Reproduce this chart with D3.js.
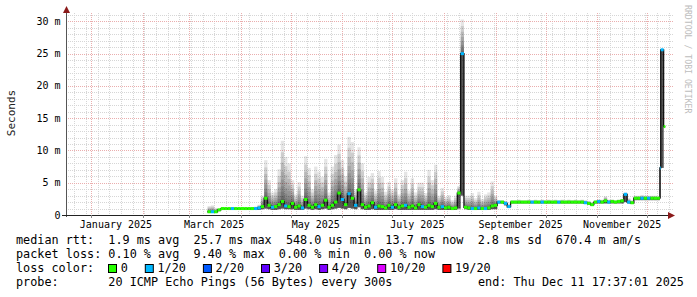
<!DOCTYPE html>
<html>
<head>
<meta charset="utf-8">
<script src="https://cdn.jsdelivr.net/npm/d3@7/dist/d3.min.js"></script>
<style>
body { margin: 0; background: #fff; }
svg { display: block; font-family: "DejaVu Sans Mono", monospace; }
</style>
</head>
<body>
<svg id="chart" width="697" height="297"></svg>
<script>
// one sample every 2 days starting here
var firstDay = '2025-03-12'

// median rtt in ms
var median = [
    0.5, 0.5, 0.5, 0.8, 1.0, 1.0, 1.0, 1.0, 1.0, 1.0,
    1.0, 1.0, 1.0, 1.0, 1.0, 1.1, 1.3, 2.6, 1.5, 1.2, 1.3, 1.6, 2.1, 1.4, 1.3,
    1.8, 1.2, 1.4, 1.1, 2.4, 1.5, 1.2, 1.6, 1.3, 1.5, 2.3, 1.2, 1.5, 2.0, 3.4, 2.4,
    1.6, 3.3, 2.6, 1.5, 3.9, 1.6, 1.2, 1.4, 1.9, 1.2, 1.4, 1.3, 1.1, 1.5, 1.2,
    1.6, 1.2, 1.4, 1.5, 1.2, 1.4, 1.1, 1.6, 1.3, 1.2, 1.5, 1.3, 1.8, 1.2, 1.3,
    1.1, 1.2, 1.0, 1.1, 3.4, 25.0, 1.2, 1.1, 1.0, 1.0, 1.1, 1.0, 1.0, 1.1, 1.4, 1.5,
    2.0, 2.0, 1.8, 1.3, 2.0, 2.0, 2.0, 2.0, 2.0, 2.0, 2.0, 2.0, 2.0, 2.0, 2.0,
    2.0, 2.0, 2.0, 2.0, 2.0, 2.0, 2.0, 2.0, 2.0, 2.0, 2.0, 1.9, 1.8, 1.6, 2.0,
    2.1, 2.0, 2.2, 2.0, 2.1, 2.0, 2.1, 2.2, 3.2, 2.0, 1.9, 2.6, 2.6, 2.6, 2.6,
    2.6, 2.6, 2.6, 2.6
]
// top of the smoke (slowest ping) in ms
var smokeHi = [
    1.4, 1.5, 1.1, 1.0, 1.2, 1.1, 1.1, 1.1, 1.2, 1.1,
    1.1, 1.1, 1.2, 1.1, 1.3, 1.6, 3.0, 8.5, 5.4, 3.5, 4.0, 7.1, 11.5, 9.0, 8.0,
    5.4, 3.2, 5.1, 3.0, 9.1, 7.3, 4.0, 7.5, 6.7, 5.9, 8.7, 3.5, 7.5, 9.3, 10.9, 8.5,
    6.0, 12.1, 11.3, 4.0, 10.5, 8.0, 3.5, 5.9, 6.5, 3.8, 6.8, 5.9, 3.6, 5.1, 4.0,
    5.7, 3.2, 5.4, 6.7, 3.8, 5.7, 3.5, 5.0, 5.0, 3.4, 7.0, 5.4, 7.8, 3.0, 4.2,
    2.8, 3.1, 2.3, 3.0, 4.5, 30.3, 3.0, 3.0, 3.4, 2.6, 3.6, 2.5, 3.2, 3.5, 5.2, 3.0,
    2.3, 2.3, 2.2, 1.7, 2.3, 2.3, 2.4, 2.3, 2.3, 2.4, 2.3, 2.4, 2.3, 2.4, 2.3,
    2.4, 2.3, 2.4, 2.3, 2.4, 2.3, 2.4, 2.3, 2.4, 2.3, 2.4, 2.3, 2.2, 2.0, 2.3,
    2.4, 2.4, 2.9, 2.4, 2.4, 2.3, 2.4, 2.5, 3.5, 2.6, 2.3, 3.0, 3.0, 3.1, 3.0,
    3.0, 3.0, 3.0, 2.9
]
// bottom of the smoke (fastest ping) in ms
var smokeLo = [
    0.4, 0.4, 0.4, 0.6, 0.8, 0.8, 0.8, 0.8, 0.8, 0.8,
    0.8, 0.8, 0.8, 0.8, 0.8, 0.8, 0.9, 1.0, 0.9, 0.8, 0.8, 0.9, 1.0, 0.9, 0.9,
    0.9, 0.8, 0.8, 0.8, 1.0, 0.9, 0.8, 0.9, 0.8, 0.9, 1.0, 0.8, 0.9, 1.0, 1.1, 1.0,
    0.9, 1.1, 1.0, 0.9, 1.2, 0.9, 0.8, 0.8, 0.9, 0.8, 0.8, 0.8, 0.8, 0.8, 0.8,
    0.9, 0.8, 0.8, 0.8, 0.8, 0.8, 0.8, 0.8, 0.8, 0.8, 0.8, 0.8, 0.9, 0.8, 0.8,
    0.8, 0.8, 0.8, 0.8, 1.0, 3.0, 0.9, 0.8, 0.8, 0.8, 0.8, 0.8, 0.8, 0.8, 0.9, 0.9,
    1.8, 1.8, 1.5, 1.1, 1.8, 1.8, 1.8, 1.8, 1.8, 1.8, 1.8, 1.8, 1.8, 1.8, 1.8,
    1.8, 1.8, 1.8, 1.8, 1.8, 1.8, 1.8, 1.8, 1.8, 1.8, 1.8, 1.7, 1.6, 1.4, 1.8,
    1.8, 1.8, 1.8, 1.8, 1.8, 1.8, 1.8, 1.8, 2.0, 1.8, 1.7, 2.3, 2.3, 2.3, 2.3,
    2.3, 2.3, 2.3, 2.3
]
// index into lossColors
var loss = [
    0, 1, 0, 0, 0, 0, 0, 1, 0, 0,
    0, 0, 0, 0, 1, 1, 0, 0, 0, 1, 0, 0, 0, 1, 0,
    0, 0, 0, 1, 0, 0, 0, 0, 1, 0, 0, 0, 0, 0, 0, 1,
    0, 1, 0, 1, 0, 0, 0, 0, 0, 1, 0, 0, 0, 0, 1,
    0, 0, 0, 1, 0, 0, 0, 0, 1, 0, 0, 0, 0, 0, 1,
    0, 0, 0, 0, 0, 1, 0, 0, 1, 0, 1, 0, 1, 0, 0, 0,
    1, 0, 1, 1, 0, 0, 0, 0, 0, 0, 1, 0, 0, 1, 0,
    0, 0, 0, 1, 0, 0, 0, 0, 0, 0, 0, 1, 0, 0, 0,
    1, 0, 0, 1, 0, 0, 0, 0, 1, 1, 0, 0, 0, 1, 0,
    1, 0, 0, 0
]

// last few samples, closer together
var tailDates = ['2025-12-08T16:00', '2025-12-09T04:00', '2025-12-10T22:00']
var tailMedian = [7.3, 25.6, 13.7]
var tailHi = [7.3, 25.6, 13.7]
var tailLo = [2.6, 7.3, 13.7]
var tailLoss = [1, 1, 0]
var lastSampleEnd = '2025-12-11T22:00'

var lossLabels = ['0', '1/20', '2/20', '3/20', '4/20', '10/20', '19/20']
var lossColors = ['#26ff00', '#00b8ff', '#0059ff', '#5e00ff', '#7e00ff', '#dd00ff', '#ff0000']

var yTicks = [0, 5, 10, 15, 20, 25, 30]
var yLabels = ['0', '5 m', '10 m', '15 m', '20 m', '25 m', '30 m']
var xLabelDates = ['2025-01-16', '2025-03-16', '2025-05-16', '2025-07-16', '2025-09-16', '2025-11-16']
var xLabels = ['January 2025', 'March 2025', 'May 2025', 'July 2025', 'September 2025', 'November 2025']

var legendRtt = 'median rtt:  1.9 ms avg  25.7 ms max  548.0 us min  13.7 ms now  2.8 ms sd  670.4 m am/s'
var legendLoss = 'packet loss: 0.10 % avg  9.40 % max  0.00 % min  0.00 % now'
var legendProbe = 'probe:       20 ICMP Echo Pings (56 Bytes) every 300s'
var legendEnd = 'end: Thu Dec 11 17:37:01 2025'

var parseDay = d3.utcParse('%Y-%m-%d')
var parseTime = d3.utcParse('%Y-%m-%dT%H:%M')

var plotLeft = 66, plotRight = 673, plotTop = 13, plotBottom = 215
var charW = 7.1

// keep runs of spaces in svg text
function keepSpaces(s) { return s.replace(/ /g, '\u00a0') }

var x = d3.scaleUtc()
    .domain([parseTime('2024-12-17T00:00'), parseTime('2025-12-16T13:00')])
    .range([plotLeft, plotRight])

var y = d3.scaleLinear()
    .domain([0, 31.3])
    .range([plotBottom, plotTop])

// build the samples
var points = median.map(function(m, i) {
    return {
        t0: d3.utcDay.offset(parseDay(firstDay), 2 * i),
        med: m, hi: smokeHi[i], lo: smokeLo[i], loss: loss[i]
    }
})
tailDates.forEach(function(d, i) {
    points.push({ t0: parseTime(d), med: tailMedian[i], hi: tailHi[i], lo: tailLo[i], loss: tailLoss[i] })
})
points.forEach(function(p, i) {
    p.t1 = i < points.length - 1 ? points[i + 1].t0 : parseTime(lastSampleEnd)
})

var svg = d3.select('#chart')

// grid
var grid = svg.append('g').attr('class', 'grid')

var weeks = d3.utcSunday.range(x.domain()[0], x.domain()[1])
var months = d3.utcMonth.range(x.domain()[0], x.domain()[1])
var minorY = d3.range(1, 32).filter(function(v) { return v % 5 !== 0 })

function vgrid(data, color) {
    grid.append('g')
        .selectAll('line')
        .data(data)
        .enter().append('line')
        .attr('x1', function(d) { return Math.round(x(d)) + 0.5 })
        .attr('x2', function(d) { return Math.round(x(d)) + 0.5 })
        .attr('y1', plotTop)
        .attr('y2', plotBottom)
        .style('stroke', color)
        .style('stroke-dasharray', '1,1')
}
function hgrid(data, color) {
    grid.append('g')
        .selectAll('line')
        .data(data)
        .enter().append('line')
        .attr('x1', plotLeft)
        .attr('x2', plotRight)
        .attr('y1', function(d) { return Math.round(y(d)) + 0.5 })
        .attr('y2', function(d) { return Math.round(y(d)) + 0.5 })
        .style('stroke', color)
        .style('stroke-dasharray', '1,1')
}
vgrid(weeks, '#d6d6d6')
hgrid(minorY, '#d6d6d6')
vgrid(months, '#eaaeae')
hgrid(yTicks.slice(1), '#eaaeae')

// smoke: stacked translucent layers, dense near the median
var layers = d3.range(1, 11)
var smoke = svg.append('g').attr('class', 'smoke')
smoke.selectAll('g')
    .data(points)
    .enter().append('g')
    .selectAll('rect')
    .data(function(p) {
        return layers.map(function(k) {
            return { p: p, v: p.med + (p.hi - p.med) * Math.pow(k / layers.length, 2) }
        })
    })
    .enter().append('rect')
    .attr('x', function(d) { return x(d.p.t0) })
    .attr('width', function(d) { return x(d.p.t1) - x(d.p.t0) })
    .attr('y', function(d) { return y(d.v) })
    .attr('height', function(d) { return y(d.p.lo) - y(d.v) })
    .style('fill', '#000')
    .style('fill-opacity', 0.1)

// median: black steps, coloured by loss on top
var stepLine = d3.line()
    .x(function(d) { return x(d.t) })
    .y(function(d) { return y(d.v) })
    .curve(d3.curveStepAfter)

var stepData = points.map(function(p) { return { t: p.t0, v: p.med } })
stepData.push({ t: points[points.length - 1].t1, v: points[points.length - 1].med })

svg.append('path')
    .datum(stepData)
    .attr('d', stepLine)
    .style('fill', 'none')
    .style('stroke', '#111')
    .style('stroke-width', 1.3)

svg.append('g')
    .selectAll('line')
    .data(points)
    .enter().append('line')
    .attr('x1', function(d) { return x(d.t0) })
    .attr('x2', function(d) { return x(d.t1) })
    .attr('y1', function(d) { return y(d.med) })
    .attr('y2', function(d) { return y(d.med) })
    .style('stroke', function(d) { return lossColors[d.loss] })
    .style('stroke-width', 3)

// axes
svg.append('line')
    .attr('x1', plotLeft + 0.5).attr('x2', plotLeft + 0.5)
    .attr('y1', plotBottom + 2).attr('y2', 9)
    .style('stroke', '#555')
svg.append('line')
    .attr('x1', 62).attr('x2', 670)
    .attr('y1', plotBottom + 0.5).attr('y2', plotBottom + 0.5)
    .style('stroke', '#222')
svg.append('path')
    .attr('d', 'M' + (plotLeft + 0.5) + ',6L' + (plotLeft + 4) + ',13L' + (plotLeft - 3) + ',13Z')
    .style('fill', '#8b1a1a')
svg.append('path')
    .attr('d', 'M675,' + (plotBottom + 0.5) + 'L668,' + (plotBottom - 3) + 'L668,' + (plotBottom + 4) + 'Z')
    .style('fill', '#8b1a1a')

svg.append('g')
    .selectAll('line')
    .data(months)
    .enter().append('line')
    .attr('x1', function(d) { return Math.round(x(d)) + 0.5 })
    .attr('x2', function(d) { return Math.round(x(d)) + 0.5 })
    .attr('y1', plotBottom)
    .attr('y2', plotBottom + 3)
    .style('stroke', '#888')

// tick labels
svg.append('g')
    .selectAll('text')
    .data(yTicks)
    .enter().append('text')
    .attr('x', 60.5)
    .attr('y', function(d) { return y(d) + 3.5 })
    .attr('text-anchor', 'end')
    .style('font-size', '10px')
    .text(function(d, i) { return keepSpaces(yLabels[i]) })

svg.append('g')
    .selectAll('text')
    .data(xLabelDates)
    .enter().append('text')
    .attr('x', function(d) { return x(parseDay(d)) })
    .attr('y', 228)
    .attr('text-anchor', 'middle')
    .style('font-size', '10px')
    .text(function(d, i) { return xLabels[i] })

svg.append('text')
    .attr('transform', 'translate(15,113) rotate(-90)')
    .attr('text-anchor', 'middle')
    .style('font-size', '11px')
    .style('fill', '#222')
    .text('Seconds')

svg.append('text')
    .attr('transform', 'translate(685,5) rotate(90)')
    .style('font-size', '8.2px')
    .style('fill', '#bdbdbd')
    .text('RRDTOOL / TOBI OETIKER')

// legend
var legend = svg.append('g')
    .style('font-size', '11.8px')

legend.append('text').attr('x', 16).attr('y', 244).text(keepSpaces(legendRtt))
legend.append('text').attr('x', 16).attr('y', 258).text(keepSpaces(legendLoss))
legend.append('text').attr('x', 16).attr('y', 272).text('loss color:')
legend.append('text').attr('x', 16).attr('y', 286).text(keepSpaces(legendProbe))
legend.append('text').attr('x', 478).attr('y', 286).text(keepSpaces(legendEnd))

var bx = 108
lossLabels.forEach(function(lbl, i) {
    legend.append('rect')
        .attr('x', bx + 0.5).attr('y', 264.5)
        .attr('width', 8).attr('height', 8)
        .style('fill', lossColors[i])
        .style('stroke', '#000')
    legend.append('text')
        .attr('x', bx + 12.7).attr('y', 272)
        .text(lbl)
    bx = bx + 12.7 + lbl.length * charW + 17
})
</script>
</body>
</html>
